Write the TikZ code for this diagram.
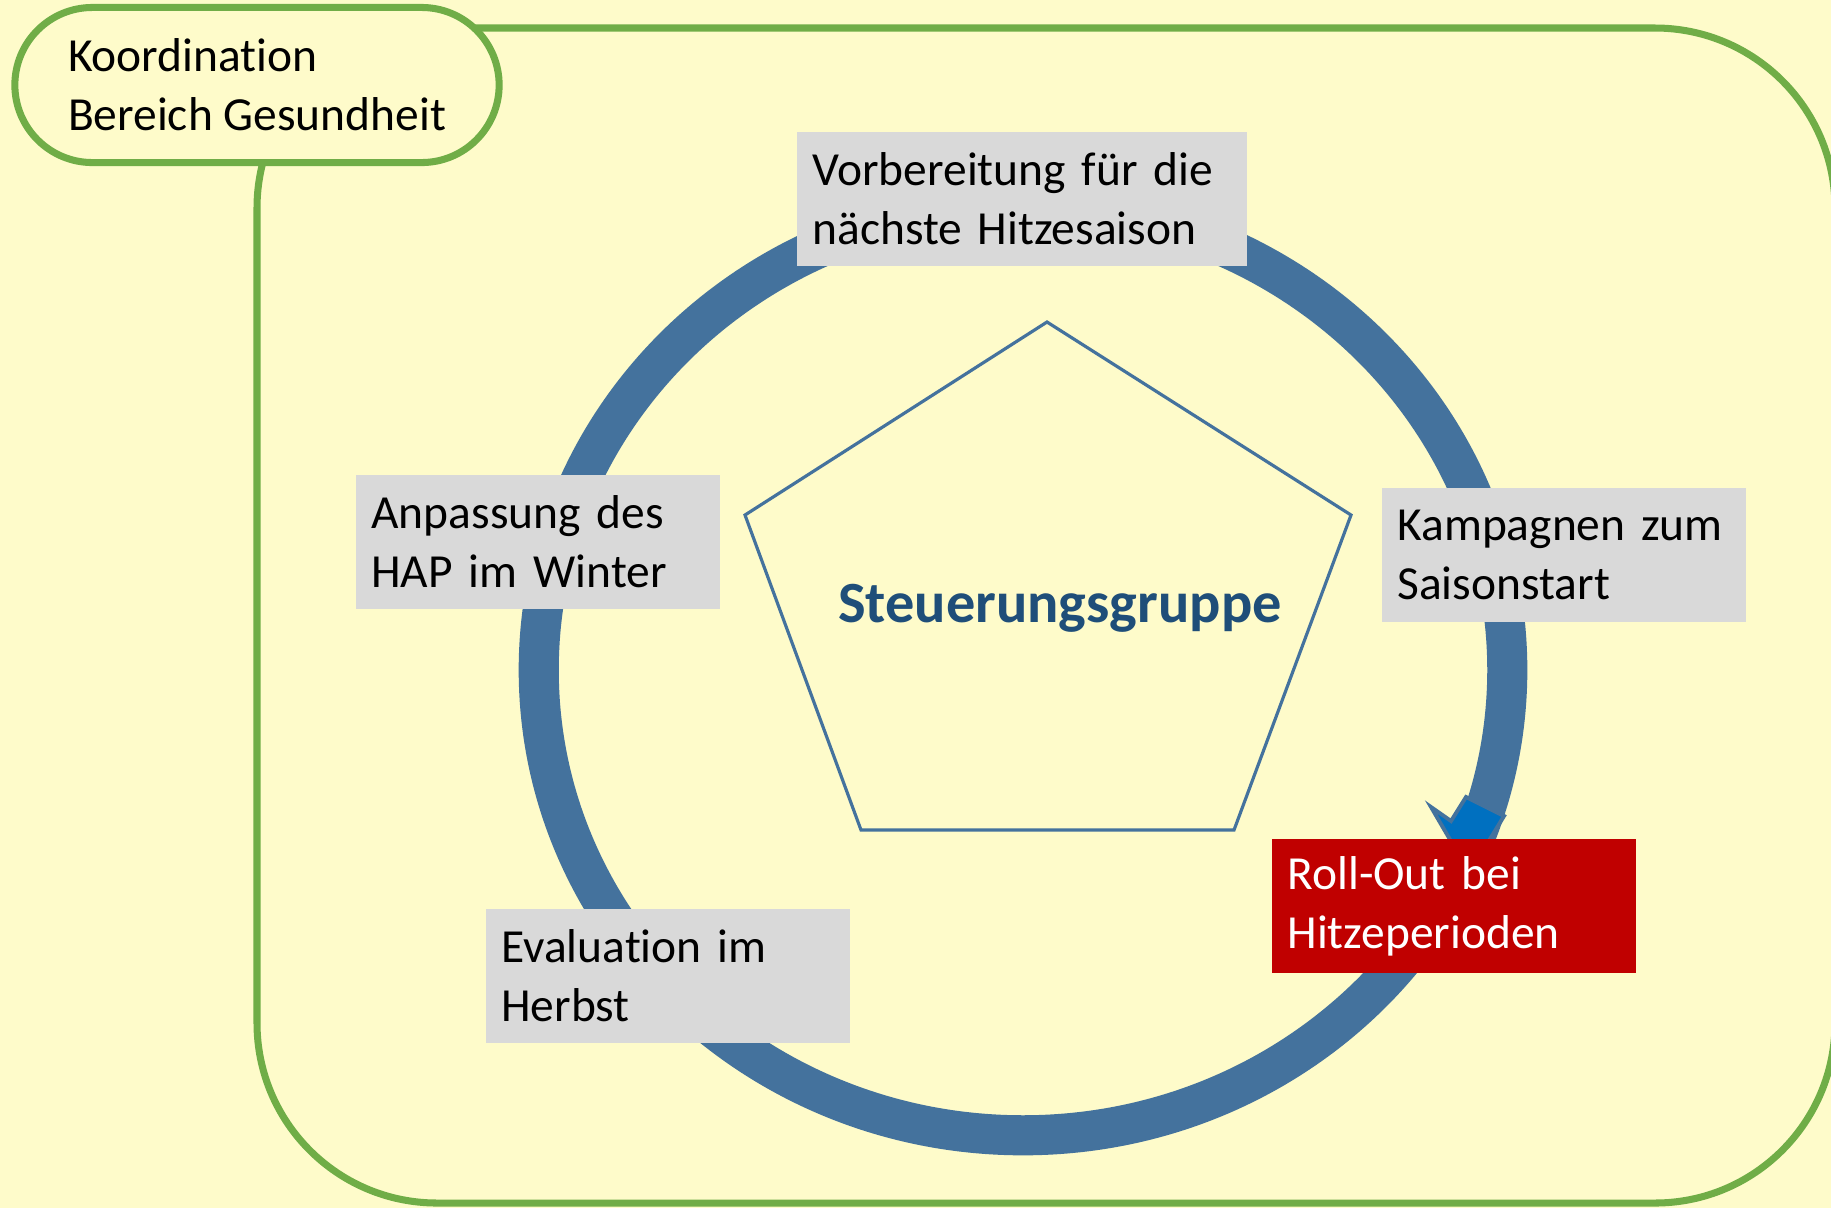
\documentclass[tikz,border=0pt]{standalone}
\usepackage{fontspec}
\setmainfont{Carlito}[Ligatures=NoCommon]

\definecolor{bgyellow}{HTML}{FEFBCA}
\definecolor{framegreen}{HTML}{70AD47}
\definecolor{ringblue}{HTML}{44729D}
\definecolor{headblue}{HTML}{0070C0}
\definecolor{titleblue}{HTML}{1F4E79}
\definecolor{boxgray}{HTML}{D9D9D9}
\definecolor{rollred}{HTML}{C00000}

\begin{document}
\begin{tikzpicture}[x=0.01cm,y=-0.01cm,
                    font=\fontsize{13.5}{16.8}\selectfont,
                    stage/.style={fill=boxgray,text width=#1,inner xsep=0.15cm,
                                  align=left,minimum height=1.33cm},
                    frame/.style={draw=framegreen,line width=2pt},
                    ring/.style={draw=ringblue,line width=11.4pt}]

  \fill[bgyellow] (0,0) rectangle (1831,1208);
  \clip (0,0) rectangle (1831,1208);
  \draw[frame,rounded corners=1.8cm] (257,28) rectangle (1835,1203);

  \coordinate (ctr) at (1023,670);
  \draw[ring] (ctr) ellipse [x radius=4.84cm,y radius=4.65cm];
  \draw[ringblue,line width=1.1pt,fill=headblue]
    (1466,797) -- (1504,816) -- (1490,839) -- (1515,850)
    -- (1459,855) -- (1431,807) -- (1451,821) -- cycle;

  \draw[ringblue,line width=0.9pt]
    (1047,322) -- (1351,515) -- (1234,830) -- (861,830) -- (745,515) -- cycle;
  \node[anchor=base,text=titleblue,font=\fontsize{16.6}{20}\selectfont\bfseries]
    (steer) at (1060,622) {Steuerungsgruppe};

  \node[stage=4.19cm] (vorb) at (1022,199) {Vorbereitung für die\\nächste Hitzesaison};
  \node[stage=3.33cm] (anp)  at (538,542)  {Anpassung des\\HAP im Winter};
  \node[stage=3.33cm] (kamp) at (1564,555) {Kampagnen zum\\Saisonstart};
  \node[stage=3.33cm] (eval) at (668,976)  {Evaluation im\\Herbst};
  \node[stage=3.33cm,fill=rollred,text=white] (roll) at (1454,906) {Roll-Out bei\\Hitzeperioden};

  \node[frame,fill=bgyellow,rounded corners=0.775cm,minimum width=4.84cm,
        minimum height=1.55cm,align=left] (koord) at (257,85)
        {Koordination\\Bereich Gesundheit};
\end{tikzpicture}
\end{document}
